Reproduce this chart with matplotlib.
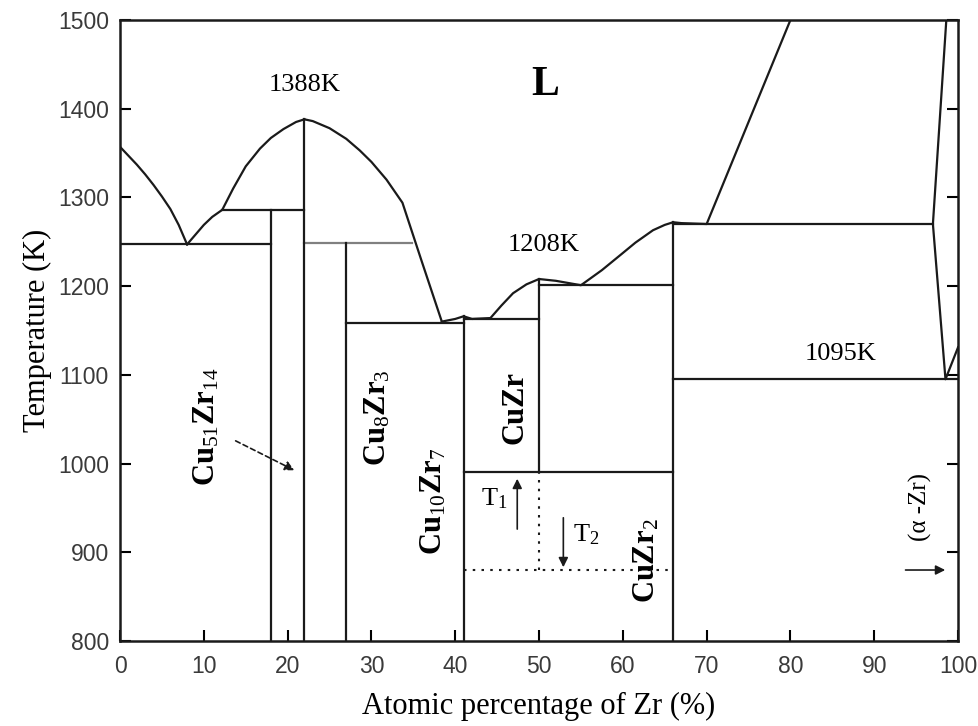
import numpy as np
import matplotlib
matplotlib.use('Agg')
import matplotlib.pyplot as plt

plt.rcParams['mathtext.fontset'] = 'custom'
plt.rcParams['mathtext.rm'] = 'Liberation Serif'
plt.rcParams['mathtext.it'] = 'Liberation Serif:italic'
plt.rcParams['mathtext.bf'] = 'Liberation Serif:bold'

# liquidus pieces (x = at.% Zr, T in K)
liq_cu_x = [0, 1, 2, 3, 4, 5, 6, 7, 8]
liq_cu_T = [1357, 1347, 1337, 1326, 1314, 1301, 1287, 1269, 1247]
liq_a_x = [8, 9, 10, 11, 12.2, 13.5, 15, 16.7, 18, 19.5, 21, 22]
liq_a_T = [1247, 1258, 1269, 1278, 1286, 1310, 1335, 1355, 1367, 1377, 1385, 1388]
liq_b_x = [22, 23, 25, 27, 28.6, 30, 31.8, 33.7, 36, 38.4]
liq_b_T = [1388, 1386, 1378, 1366, 1353, 1340, 1320, 1294, 1228, 1160]
liq_c_x = [38.4, 40, 41, 42, 44.2, 45.5, 46.9, 48.5, 50, 52, 55, 57.5, 59.7, 61.5, 63.6, 65, 66, 67, 70, 80]
liq_c_T = [1160, 1163, 1166, 1163, 1164, 1178, 1192, 1202, 1208, 1206, 1201, 1218, 1235, 1249, 1263, 1269, 1272, 1271, 1270, 1500]
liq_zr_x = [98.6, 97, 98.5, 100]
liq_zr_T = [1500, 1270, 1095, 1131]

# horizontal invariant lines: temperature, x start, x end
h_T = [1247, 1286, 1158, 1163, 1201, 1270, 1095, 990]
h_x0 = [0, 12.2, 27, 41, 50, 66, 66, 41]
h_x1 = [18, 22, 41, 50, 66, 97, 100, 66]
grey_T, grey_x0, grey_x1 = 1249, 22, 34.8

# vertical compound lines: x, T bottom, T top
v_x = [18, 22, 27, 41, 50, 66]
v_T0 = [800, 800, 800, 800, 990, 800]
v_T1 = [1286, 1388, 1249, 1166, 1208, 1272]

fig = plt.figure(figsize=(9.79, 7.26), dpi=100)
ax = fig.add_axes([0.1226, 0.1171, 0.856, 0.8554])

lc = '#1a1a1a'
lw = 1.6
for xs, ts in [(liq_cu_x, liq_cu_T), (liq_a_x, liq_a_T), (liq_b_x, liq_b_T),
               (liq_c_x, liq_c_T), (liq_zr_x, liq_zr_T)]:
    ax.plot(xs, ts, color=lc, lw=lw, solid_joinstyle='round')
for t, a, b in zip(h_T, h_x0, h_x1):
    ax.plot([a, b], [t, t], color=lc, lw=lw)
ax.plot([grey_x0, grey_x1], [grey_T, grey_T], color='#808080', lw=lw)
for x, a, b in zip(v_x, v_T0, v_T1):
    ax.plot([x, x], [a, b], color=lc, lw=lw)

# dotted T1/T2 paths
ax.plot([50, 50], [880, 990], color=lc, lw=1.5, ls=(0, (1.2, 3)))
ax.plot([41, 66], [880, 880], color=lc, lw=1.5, ls=(0, (1.2, 3)))

ax.set_xlim(0, 100)
ax.set_ylim(800, 1500)
ax.set_xticks(np.arange(0, 101, 10))
ax.set_yticks(np.arange(800, 1501, 100))
ax.tick_params(direction='in', length=8, width=1.5, right=True, top=False,
               labelsize=16.5, labelcolor='#3a3a3a')
ax.tick_params(axis='x', pad=10)
ax.tick_params(axis='y', pad=8)
for lab in ax.get_xticklabels() + ax.get_yticklabels():
    lab.set_family('Liberation Sans')
for s in ax.spines.values():
    s.set_linewidth(1.8)
    s.set_color(lc)

serif = 'Liberation Serif'
ax.set_xlabel('Atomic percentage of Zr (%)', family=serif, fontsize=22, labelpad=10)
ax.set_ylabel('Temperature (K)', family=serif, fontsize=22, labelpad=4)

ax.text(22, 1427, '1388K', family=serif, fontsize=19, ha='center', va='center')
ax.text(50.7, 1427, 'L', family=serif, fontsize=30, weight='bold', ha='center', va='center')
ax.text(50.5, 1246, '1208K', family=serif, fontsize=19, ha='center', va='center')
ax.text(86, 1124, '1095K', family=serif, fontsize=19, ha='center', va='center')

bold = dict(family=serif, fontsize=22, weight='bold', rotation=90, ha='center', va='center')
ax.text(10.4, 1041, r'Cu$_{51}$Zr$_{14}$', **bold)
ax.text(30.7, 1052, r'Cu$_{8}$Zr$_{3}$', **bold)
ax.text(37.4, 957, r'Cu$_{10}$Zr$_{7}$', **bold)
ax.text(47.1, 1063, 'CuZr', **bold)
ax.text(62.9, 891, r'CuZr$_{2}$', **bold)
ax.text(95.5, 951, '(α -Zr)', family=serif, fontsize=18, rotation=90, ha='center', va='center')

arr = dict(arrowstyle='-|>', color=lc, lw=1.2, mutation_scale=14)
ax.annotate('', xy=(21.1, 991), xytext=(13.5, 1027), arrowprops=dict(arr, ls=(0, (3, 2))))
ax.annotate('', xy=(47.4, 986), xytext=(47.4, 923), arrowprops=arr)
ax.annotate('', xy=(52.9, 880), xytext=(52.9, 942), arrowprops=arr)
ax.annotate('', xy=(98.8, 880), xytext=(93.4, 880), arrowprops=arr)
ax.text(44.6, 960, r'T$_{1}$', family=serif, fontsize=19, ha='center', va='center')
ax.text(55.6, 920, r'T$_{2}$', family=serif, fontsize=19, ha='center', va='center')

fig.savefig('out.png', dpi=100)
